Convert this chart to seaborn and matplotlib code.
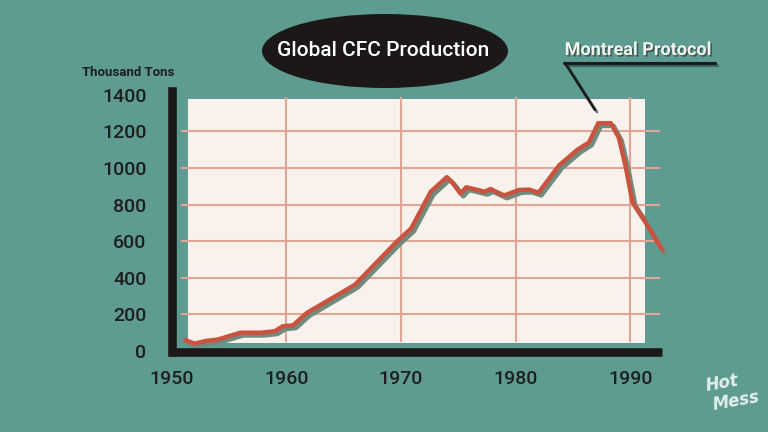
import numpy as np
import pandas as pd
import matplotlib
matplotlib.use("Agg")
import matplotlib.pyplot as plt
import matplotlib.patheffects as pe
from matplotlib.patches import Ellipse, Rectangle
import seaborn as sns

# ---- data ----
years = [1951.2, 1952.0, 1953.0, 1954.0, 1956.0, 1957.8, 1959.0, 1959.7, 1960.6,
         1961.8, 1966.0, 1969.6, 1970.9, 1972.6, 1974.0, 1974.5, 1975.2, 1975.7,
         1977.3, 1977.8, 1979.0, 1980.3, 1981.2, 1982.0, 1983.8, 1985.4, 1986.4,
         1987.2, 1988.3, 1989.0, 1989.6, 1990.2, 1991.3, 1992.8]
production = [60, 40, 55, 62, 100, 100, 108, 135, 140,
              208, 362, 595, 670, 870, 950, 920, 860, 895,
              870, 885, 850, 880, 882, 865, 1015, 1100, 1140,
              1245, 1245, 1165, 1005, 810, 705, 550]
y_ticks = [0, 200, 400, 600, 800, 1000, 1200, 1400]
x_ticks = [1950, 1960, 1970, 1980, 1990]
h_grid = [200, 400, 600, 800, 1000, 1200]
v_grid = [1960, 1970, 1980, 1990]
title = "Global CFC Production"
annotation = "Montreal Protocol"
y_label = "Thousand Tons"

df = pd.DataFrame({"year": years, "production": production})

TEAL = "#5E9B91"
PANEL = "#F9F1EB"
GRID = "#E2A495"
RED = "#C9533F"
SHADOW = "#6F8C80"
INK = "#1C1817"
TXT = "#1E1E1E"

sns.set_style("white")
plt.rcParams["font.family"] = ["Roboto", "DejaVu Sans"]

W, H = 768, 432
fig = plt.figure(figsize=(W / 100, H / 100), dpi=100)
fig.patch.set_facecolor(TEAL)

# axes placed in pixel terms
left_px, right_px, top_px, bot_px = 171.5, 662, 91, 352
ax = fig.add_axes([left_px / W, 1 - bot_px / H, (right_px - left_px) / W, (bot_px - top_px) / H])
ax.set_facecolor("none")

def px_to_year(px):
    return 1990 + (px - 630) / 11.6

def py_to_val(py):
    return (351 - py) / 0.183

ax.set_xlim(px_to_year(left_px), px_to_year(right_px))
ax.set_ylim(py_to_val(bot_px), py_to_val(top_px))

# paper panel
x0, x1 = px_to_year(183), px_to_year(645)
y0, y1 = py_to_val(343), py_to_val(99)
ax.add_patch(Rectangle((x0, y0), x1 - x0, y1 - y0, facecolor=PANEL, edgecolor="none",
                       zorder=0, clip_on=False))

# grid lines
ax.hlines(h_grid, px_to_year(176), px_to_year(660), colors=GRID, linewidth=1.5, zorder=1)
ax.vlines(v_grid, py_to_val(342), py_to_val(97), colors=GRID, linewidth=1.5, zorder=1,
          clip_on=False)

# production line with offset shadow
sns.lineplot(data=df, x="year", y="production", ax=ax, color=RED, linewidth=3.2,
             estimator=None, sort=False, zorder=5, clip_on=False,
             path_effects=[pe.SimpleLineShadow(offset=(2.0, -2.0), shadow_color=SHADOW, alpha=1.0),
                           pe.Normal()])
ax.lines[-1].set_solid_joinstyle("round")
ax.lines[-1].set_solid_capstyle("round")

# spines as thick black bars
for s in ["top", "right"]:
    ax.spines[s].set_visible(False)
for s in ["left", "bottom"]:
    ax.spines[s].set_visible(True)
    ax.spines[s].set_color(INK)
    ax.spines[s].set_linewidth(6.2)
    ax.spines[s].set_zorder(6)
ax.spines["bottom"].set_capstyle("butt")
ax.spines["left"].set_capstyle("projecting")

ax.set_yticks(y_ticks)
ax.set_yticklabels([str(v) for v in y_ticks])
ax.set_xticks(x_ticks)
ax.set_xticklabels([str(v) for v in x_ticks])
ax.tick_params(axis="y", length=0, pad=18, labelsize=14, labelcolor=TXT)
ax.tick_params(axis="x", length=0, pad=13, labelsize=14, labelcolor=TXT)
for lab in ax.get_xticklabels() + ax.get_yticklabels():
    lab.set_fontweight("medium")
ax.set_xlabel("")
ax.set_ylabel("")
ax.grid(False)

# y unit label
fig.text(128 / W, 1 - 73 / H, y_label, ha="center", va="center", fontsize=9.5,
         fontweight="bold", color=TXT)

# title in black ellipse
fig.patches.append(Ellipse((385 / W, 1 - 51 / H), 246 / W, 74 / H, transform=fig.transFigure,
                           facecolor=INK, edgecolor="none", figure=fig))
fig.text(383 / W, 1 - 50 / H, title, ha="center", va="center", fontsize=15,
         color="white", fontweight="medium")

# Montreal Protocol annotation
fig.text(638 / W, 1 - 50 / H, annotation, ha="center", va="center", fontsize=13,
         color="#F2F2EE", fontweight="bold",
         path_effects=[pe.withSimplePatchShadow(offset=(1.2, -1.2), shadow_rgbFace="#1f3833",
                                                alpha=0.6)])
line_fx = [pe.SimpleLineShadow(offset=(1.5, -1.5), shadow_color="#2f5a52", alpha=0.8), pe.Normal()]
fig.add_artist(plt.Line2D([564 / W, 715 / W], [1 - 63 / H, 1 - 63 / H], transform=fig.transFigure,
                          color=INK, linewidth=2.2, path_effects=line_fx))
fig.add_artist(plt.Line2D([565 / W, 595 / W], [1 - 63 / H, 1 - 110 / H], transform=fig.transFigure,
                          color=INK, linewidth=1.8, path_effects=line_fx))

# logo
fig.text(722 / W, 1 - 383 / H, "Hot", ha="center", va="center", fontsize=12, rotation=10,
         color="#E4EFEC", fontweight="heavy", style="italic", family="DejaVu Sans")
fig.text(736 / W, 1 - 401 / H, "Mess", ha="center", va="center", fontsize=12, rotation=10,
         color="#E4EFEC", fontweight="heavy", style="italic", family="DejaVu Sans")

fig.savefig("out.png", dpi=100, facecolor=fig.get_facecolor())
